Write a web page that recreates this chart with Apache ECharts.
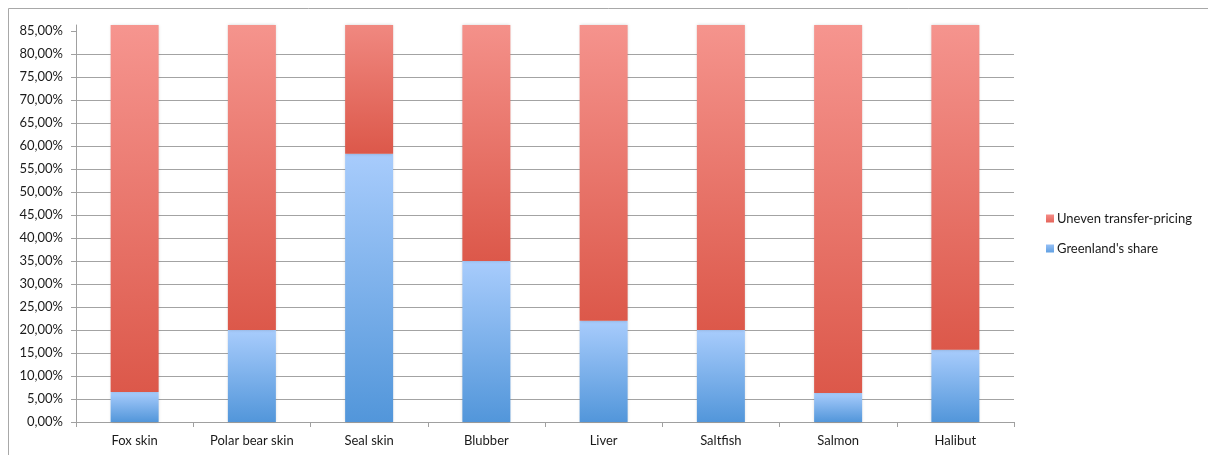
<!DOCTYPE html>
<html>
<head>
<meta charset="utf-8">
<script src="https://cdn.jsdelivr.net/npm/echarts@6/dist/echarts.min.js"></script>
<style>
html,body{margin:0;padding:0;background:#fff;}
#chart{width:1208px;height:455px;}
</style>
</head>
<body>
<div id="chart"></div>
<script>
var categories = ['Fox skin', 'Polar bear skin', 'Seal skin', 'Blubber', 'Liver', 'Saltfish', 'Salmon', 'Halibut'];
var greenlandShare = [0.065, 0.200, 0.583, 0.350, 0.220, 0.200, 0.063, 0.157];
var unevenPricing = [0.935, 0.800, 0.417, 0.650, 0.780, 0.800, 0.937, 0.843];
var yTickValues = [0, 0.05, 0.10, 0.15, 0.20, 0.25, 0.30, 0.35, 0.40, 0.45, 0.50, 0.55, 0.60, 0.65, 0.70, 0.75, 0.80, 0.85];
var seriesNames = ['Uneven transfer-pricing', "Greenland's share"];

var Y_MAX = 0.863;
var RED_TOP = [250, 160, 155], RED_BOT = [220, 88, 74];
var BLUE_TOP = [168, 204, 252], BLUE_BOT = [82, 150, 218];

function mix(a, b, t) {
  return 'rgb(' + [0,1,2].map(function(i){ return Math.round(a[i] + (b[i]-a[i])*t); }).join(',') + ')';
}
function grad(c0, c1) {
  return { type: 'linear', x: 0, y: 0, x2: 0, y2: 1, colorStops: [{offset: 0, color: c0}, {offset: 1, color: c1}] };
}

var blueData = greenlandShare.map(function(v){
  return { value: v, itemStyle: { color: grad(mix(BLUE_TOP, BLUE_BOT, 0), mix(BLUE_TOP, BLUE_BOT, 1)) } };
});
var redData = unevenPricing.map(function(v, i){
  var base = greenlandShare[i];
  var top = base + v;
  var t = top > Y_MAX ? (top - Y_MAX) / v : 0;
  return { value: v, itemStyle: { color: grad(mix(RED_TOP, RED_BOT, t), mix(RED_TOP, RED_BOT, 1)) } };
});

var chart = echarts.init(document.getElementById('chart'));
var FONT = 'Lato';
chart.setOption({
  animation: false,
  backgroundColor: '#ffffff',
  textStyle: { fontFamily: FONT },
  graphic: [{
    type: 'rect', silent: true, z: -10,
    shape: { x: 8.5, y: 8.5, width: 1400, height: 600 },
    style: { fill: 'none', stroke: '#a8a8a8', lineWidth: 1 }
  }],
  grid: { left: 76, right: 194, top: 25, bottom: 33 },
  legend: {
    orient: 'vertical',
    left: 1041, top: 207,
    itemWidth: 8, itemHeight: 8, itemGap: 17,
    icon: 'rect',
    textStyle: { fontFamily: FONT, fontSize: 13, color: '#1a1a1a', padding: [0, 0, 0, -2] },
    data: [
      { name: seriesNames[0], itemStyle: { color: grad('rgb(246,140,135)', 'rgb(228,100,90)') } },
      { name: seriesNames[1], itemStyle: { color: grad('rgb(150,192,246)', 'rgb(96,160,226)') } }
    ]
  },
  xAxis: {
    type: 'category',
    data: categories,
    axisLine: { lineStyle: { color: '#a0a0a0', width: 1 } },
    axisTick: { show: true, length: 5, lineStyle: { color: '#a0a0a0' } },
    axisLabel: { fontFamily: FONT, fontSize: 13, color: '#1a1a1a', margin: 12 }
  },
  yAxis: {
    type: 'value',
    min: 0, max: Y_MAX, interval: 0.05,
    axisLine: { show: true, lineStyle: { color: '#a0a0a0', width: 1 } },
    axisTick: { show: true, length: 5, lineStyle: { color: '#a0a0a0' }, customValues: yTickValues },
    axisLabel: {
      fontFamily: FONT, fontSize: 13, color: '#1a1a1a', margin: 13,
      customValues: yTickValues,
      showMaxLabel: true,
      formatter: function(v){ return (v*100).toFixed(2).replace('.', ',') + '%'; }
    },
    splitLine: { show: true, showMaxLine: false, lineStyle: { color: '#a3a3a3', width: 1 } }
  },
  series: [
    {
      name: seriesNames[1], type: 'bar', stack: 'total', barWidth: 48,
      data: blueData,
      itemStyle: { shadowBlur: 3, shadowColor: 'rgba(0,0,0,0.18)' }
    },
    {
      name: seriesNames[0], type: 'bar', stack: 'total', barWidth: 48,
      data: redData,
      itemStyle: { shadowBlur: 3, shadowColor: 'rgba(0,0,0,0.18)' }
    }
  ]
});
</script>
</body>
</html>
